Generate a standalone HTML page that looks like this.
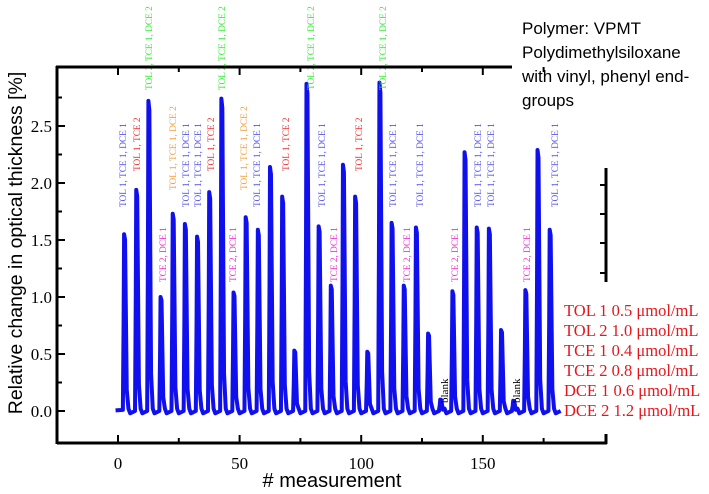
<!DOCTYPE html>
<html><head><meta charset="utf-8"><style>
body{margin:0;background:#fff;width:709px;height:489px;overflow:hidden}
svg text{font-family:"Liberation Serif",serif}
</style></head><body>
<svg id="chart" width="709" height="489" viewBox="0 0 709 489">
<g id="marks"></g>
<g id="labels"></g>
<g id="axes"></g>
<g font-size="17" style="font-family:'Liberation Sans',sans-serif">
<text x="522" y="34" style="font-family:'Liberation Sans',sans-serif">Polymer: VPMT</text>
<text x="522" y="58" style="font-family:'Liberation Sans',sans-serif">Polydimethylsiloxane</text>
<text x="522" y="82" style="font-family:'Liberation Sans',sans-serif">with vinyl, phenyl end-</text>
<text x="522" y="106" style="font-family:'Liberation Sans',sans-serif">groups</text>
</g>
<g fill="#e8151b" font-size="16.5">
<text x="564" y="316">TOL 1 0.5 μmol/mL</text>
<text x="564" y="336">TOL 2 1.0 μmol/mL</text>
<text x="564" y="356">TCE 1 0.4 μmol/mL</text>
<text x="564" y="376">TCE 2 0.8 μmol/mL</text>
<text x="564" y="396">DCE 1 0.6 μmol/mL</text>
<text x="564" y="416">DCE 2 1.2 μmol/mL</text>
</g>
<text x="332" y="487" font-size="20" text-anchor="middle" style="font-family:'Liberation Sans',sans-serif"># measurement</text>
<text transform="translate(22,243) rotate(-90)" font-size="19.5" text-anchor="middle" style="font-family:'Liberation Sans',sans-serif">Relative change in optical thickness [%]</text>
</svg>
<script>
const peakPositions=[2.5,7.5,12.5,17.5,22.5,27.5,32.5,37.5,42.5,47.5,52.5,57.5,62.5,67.5,72.5,77.5,82.5,87.5,92.5,97.5,102.5,107.5,112.5,117.5,122.5,127.5,132.5,137.5,142.5,147.5,152.5,157.5,162.5,167.5,172.5,177.5];
const peakHeights=[1.55,1.94,2.72,1.00,1.73,1.64,1.53,1.92,2.74,1.04,1.70,1.59,2.14,1.88,0.53,2.87,1.62,1.10,2.16,1.88,0.52,2.88,1.65,1.10,1.61,0.68,0.10,1.05,2.27,1.61,1.60,0.71,0.09,1.06,2.29,1.59];
const xTicks=[0,50,100,150];
const yTicks=[0.0,0.5,1.0,1.5,2.0,2.5];
const labelPos=[2,7.8,12.7,18.5,22.6,28,32.9,38.2,42.8,47.3,51.8,57.2,69.1,79.4,83.9,88.8,99.1,109,113.1,118.8,124.2,134.5,138.6,148,153.4,164,168.2,179.7];
const labelText=["TOL 1, TCE 1, DCE 1","TOL 1, TCE 2","TOL 2, TCE 1, DCE 2","TCE 2, DCE 1","TOL 1, TCE 1, DCE 2","TOL 1, TCE 1, DCE 1","TOL 1, TCE 1, DCE 1","TOL 1, TCE 2","TOL 2, TCE 1, DCE 2","TCE 2, DCE 1","TOL 1, TCE 1, DCE 2","TOL 1, TCE 1, DCE 1","TOL 1, TCE 2","TOL 2, TCE 1, DCE 2","TOL 1, TCE 1, DCE 1","TCE 2, DCE 1","TOL 1, TCE 2","TOL 2, TCE 1, DCE 2","TOL 1, TCE 1, DCE 1","TCE 2, DCE 1","TOL 1, TCE 1, DCE 1","blank","TCE 2, DCE 1","TOL 1, TCE 1, DCE 1","TOL 1, TCE 1, DCE 1","blank","TCE 2, DCE 1","TOL 1, TCE 1, DCE 1"];
const NS="http://www.w3.org/2000/svg";
const X=v=>118+v*2.432, Y=v=>411-v*114;
const colors={"TOL 1, TCE 1, DCE 1":["#5555ee",207],"TOL 1, TCE 2":["#ee3333",171],"TOL 2, TCE 1, DCE 2":["#33ee33",90],"TCE 2, DCE 1":["#ee33cc",282],"TOL 1, TCE 1, DCE 2":["#f0a040",190],"blank":["#000",403]};
const marks=document.getElementById('marks');
let d="M"+X(-1)+","+Y(0.005);
peakPositions.forEach((m,i)=>{const h=peakHeights[i];
 d+=" L"+X(m-0.5)+","+Y(0.01)+" L"+X(m-0.2)+","+Y(h*0.5)+" L"+X(m)+","+Y(h)+" L"+X(m+0.4)+","+Y(h*0.97)+" L"+X(m+0.7)+","+Y(h*0.6)+" L"+X(m+1.1)+","+Y(h*0.12)+" L"+X(m+1.8)+","+Y(0.02)+" L"+X(m+2.5)+","+Y(-0.02)+" L"+X(m+4.5)+","+Y(0);});
const p=document.createElementNS(NS,'path');p.setAttribute('d',d);p.setAttribute('fill','none');p.setAttribute('stroke','#1010ee');p.setAttribute('stroke-width','4');p.setAttribute('stroke-linejoin','round');


marks.appendChild(p);
const lg=document.getElementById('labels');
function addLabel(m,t){const c=colors[t];const tx=document.createElementNS(NS,'text');
 const x=X(m)+3;tx.setAttribute('transform','translate('+x+','+c[1]+') rotate(-90)');tx.setAttribute('font-size',t=="blank"?'11':'9.3');tx.setAttribute('fill',c[0]);tx.textContent=t;
 
 
 lg.appendChild(tx);}
labelPos.forEach((m,i)=>addLabel(m,labelText[i]));
const ax=document.getElementById('axes');
function line(x1,y1,x2,y2,w,n){const l=document.createElementNS(NS,'line');l.setAttribute('x1',x1);l.setAttribute('y1',y1);l.setAttribute('x2',x2);l.setAttribute('y2',y2);l.setAttribute('stroke','#000');l.setAttribute('stroke-width',w);
 
 
 ax.appendChild(l);}
line(57,443,607,443,3,'x-axis');line(57,66,57,444,3,'y-axis');line(56,67,512,67,3,'top-axis');
line(606,444,606,434,3,'right-axis-stub');line(606,168,606,282,3,'right-axis-segment');
[185,214,243,273].forEach(y=>line(600,y,606,y,2,'right-tick'));
for(let v=0;v<=175;v+=25){const big=v%50==0;line(X(v),443,X(v),big?435:438,2,'x-tick');line(X(v),67,X(v),big?75:72,2,'top-tick');}
xTicks.forEach(v=>{const t=document.createElementNS(NS,'text');t.setAttribute('x',X(v));t.setAttribute('y',469);t.setAttribute('font-size','17');t.setAttribute('text-anchor','middle');t.textContent=v;
 
 
 ax.appendChild(t);});
for(let v=0;v<=2.76;v+=0.25){const big=Math.abs(v*2-Math.round(v*2))<1e-6;line(57,Y(v),big?65:62,Y(v),2,'y-tick');}
yTicks.forEach(v=>{const t=document.createElementNS(NS,'text');t.setAttribute('x',52);t.setAttribute('y',Y(v)+6);t.setAttribute('font-size','17');t.setAttribute('text-anchor','end');t.textContent=v.toFixed(1);
 
 
 ax.appendChild(t);});
</script>
</body></html>
